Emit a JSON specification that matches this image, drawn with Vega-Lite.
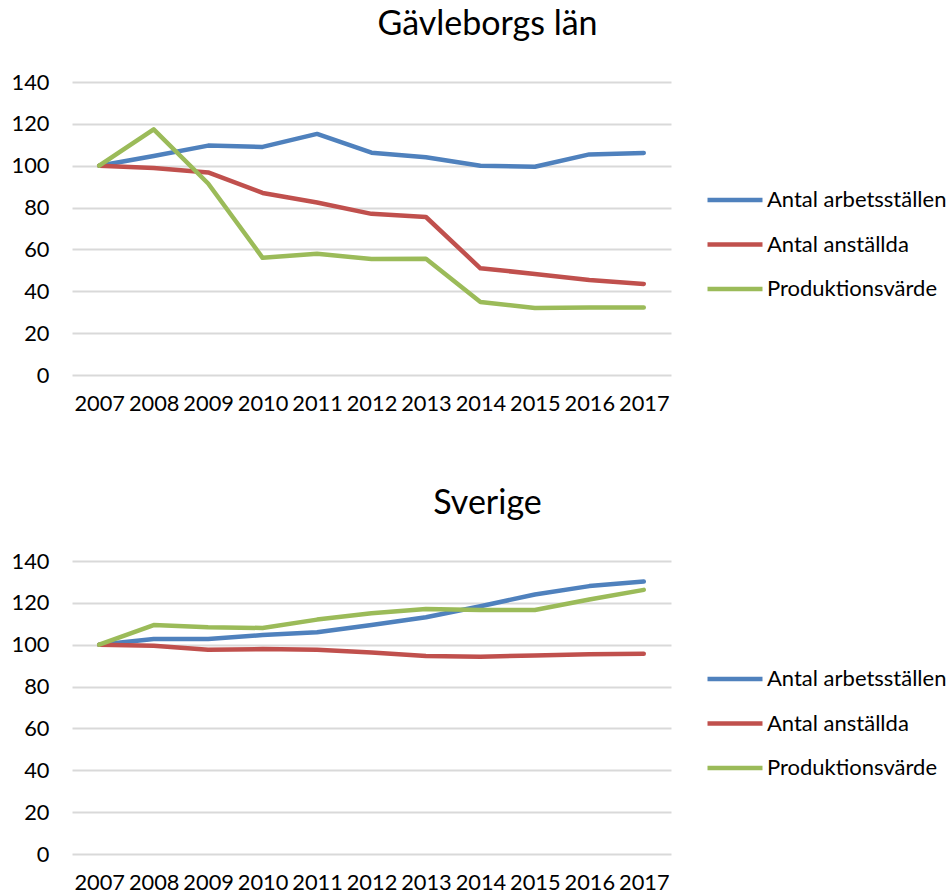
{
  "$schema": "https://vega.github.io/schema/vega-lite/v6.json",
  "background": "white",
  "padding": {"left": 11, "top": 8, "right": 0, "bottom": 0},
  "datasets": {
    "gav": [
      {"year": "2007", "series": "Antal arbetsställen", "value": 100},
      {"year": "2008", "series": "Antal arbetsställen", "value": 104.6},
      {"year": "2009", "series": "Antal arbetsställen", "value": 109.6},
      {"year": "2010", "series": "Antal arbetsställen", "value": 109},
      {"year": "2011", "series": "Antal arbetsställen", "value": 115.2},
      {"year": "2012", "series": "Antal arbetsställen", "value": 106.2},
      {"year": "2013", "series": "Antal arbetsställen", "value": 104},
      {"year": "2014", "series": "Antal arbetsställen", "value": 100},
      {"year": "2015", "series": "Antal arbetsställen", "value": 99.5},
      {"year": "2016", "series": "Antal arbetsställen", "value": 105.4},
      {"year": "2017", "series": "Antal arbetsställen", "value": 106.1},
      {"year": "2007", "series": "Antal anställda", "value": 100},
      {"year": "2008", "series": "Antal anställda", "value": 98.9},
      {"year": "2009", "series": "Antal anställda", "value": 96.8},
      {"year": "2010", "series": "Antal anställda", "value": 87},
      {"year": "2011", "series": "Antal anställda", "value": 82.4},
      {"year": "2012", "series": "Antal anställda", "value": 77},
      {"year": "2013", "series": "Antal anställda", "value": 75.5},
      {"year": "2014", "series": "Antal anställda", "value": 51},
      {"year": "2015", "series": "Antal anställda", "value": 48.3},
      {"year": "2016", "series": "Antal anställda", "value": 45.4},
      {"year": "2017", "series": "Antal anställda", "value": 43.5},
      {"year": "2007", "series": "Produktionsvärde", "value": 100},
      {"year": "2008", "series": "Produktionsvärde", "value": 117.4},
      {"year": "2009", "series": "Produktionsvärde", "value": 91.5},
      {"year": "2010", "series": "Produktionsvärde", "value": 56},
      {"year": "2011", "series": "Produktionsvärde", "value": 57.9},
      {"year": "2012", "series": "Produktionsvärde", "value": 55.4},
      {"year": "2013", "series": "Produktionsvärde", "value": 55.5},
      {"year": "2014", "series": "Produktionsvärde", "value": 34.9},
      {"year": "2015", "series": "Produktionsvärde", "value": 32},
      {"year": "2016", "series": "Produktionsvärde", "value": 32.3},
      {"year": "2017", "series": "Produktionsvärde", "value": 32.3}
    ],
    "sve": [
      {"year": "2007", "series": "Antal arbetsställen", "value": 100},
      {"year": "2008", "series": "Antal arbetsställen", "value": 102.7},
      {"year": "2009", "series": "Antal arbetsställen", "value": 102.7},
      {"year": "2010", "series": "Antal arbetsställen", "value": 104.6},
      {"year": "2011", "series": "Antal arbetsställen", "value": 106},
      {"year": "2012", "series": "Antal arbetsställen", "value": 109.4},
      {"year": "2013", "series": "Antal arbetsställen", "value": 113.1},
      {"year": "2014", "series": "Antal arbetsställen", "value": 118.4},
      {"year": "2015", "series": "Antal arbetsställen", "value": 124},
      {"year": "2016", "series": "Antal arbetsställen", "value": 128},
      {"year": "2017", "series": "Antal arbetsställen", "value": 130.2},
      {"year": "2007", "series": "Antal anställda", "value": 100},
      {"year": "2008", "series": "Antal anställda", "value": 99.5},
      {"year": "2009", "series": "Antal anställda", "value": 97.6},
      {"year": "2010", "series": "Antal anställda", "value": 97.9},
      {"year": "2011", "series": "Antal anställda", "value": 97.6},
      {"year": "2012", "series": "Antal anställda", "value": 96.3},
      {"year": "2013", "series": "Antal anställda", "value": 94.6},
      {"year": "2014", "series": "Antal anställda", "value": 94.2},
      {"year": "2015", "series": "Antal anställda", "value": 94.9},
      {"year": "2016", "series": "Antal anställda", "value": 95.4},
      {"year": "2017", "series": "Antal anställda", "value": 95.7},
      {"year": "2007", "series": "Produktionsvärde", "value": 100},
      {"year": "2008", "series": "Produktionsvärde", "value": 109.4},
      {"year": "2009", "series": "Produktionsvärde", "value": 108.3},
      {"year": "2010", "series": "Produktionsvärde", "value": 108},
      {"year": "2011", "series": "Produktionsvärde", "value": 112},
      {"year": "2012", "series": "Produktionsvärde", "value": 115},
      {"year": "2013", "series": "Produktionsvärde", "value": 117.1},
      {"year": "2014", "series": "Produktionsvärde", "value": 116.6},
      {"year": "2015", "series": "Produktionsvärde", "value": 116.6},
      {"year": "2016", "series": "Produktionsvärde", "value": 121.6},
      {"year": "2017", "series": "Produktionsvärde", "value": 126.2}
    ]
  },
  "config": {
    "font": "Lato",
    "view": {"stroke": null},
    "axis": {"labelFont": "Lato", "labelFontSize": 21.8, "labelColor": "#000000", "domain": false, "ticks": false, "title": null},
    "title": {"font": "Lato", "fontSize": 34, "fontWeight": "normal", "color": "#000000"},
    "legend": {"labelFont": "Lato", "labelFontSize": 22, "labelColor": "#000000", "labelLimit": 0},
    "concat": {"spacing": 72}
  },
  "resolve": {"scale": {"color": "independent"}, "legend": {"color": "independent"}},
  "vconcat": [
    {
      "title": {"text": "Gävleborgs län", "offset": 30, "dx": 116},
      "width": 599,
      "height": 293,
      "data": {"name": "gav"},
      "mark": {"type": "line", "strokeWidth": 4.5, "strokeCap": "round", "strokeJoin": "round"},
      "encoding": {
        "x": {"field": "year", "type": "ordinal", "scale": {"type": "point", "padding": 0.5}, "axis": {"labelAngle": 0, "labelPadding": 18, "grid": false}},
        "y": {"field": "value", "type": "quantitative", "scale": {"domain": [0, 140]}, "axis": {"values": [0, 20, 40, 60, 80, 100, 120, 140], "gridColor": "#d9d9d9", "gridWidth": 2, "labelPadding": 23}},
        "color": {
          "field": "series", "type": "nominal",
          "scale": {"domain": ["Antal arbetsställen", "Antal anställda", "Produktionsvärde"], "range": ["#4f81bd", "#c0504d", "#9bbb59"]},
          "legend": {"title": null, "orient": "none", "legendX": 647, "legendY": 102, "symbolType": "M-2,0H2", "symbolSize": 756, "symbolStrokeWidth": 4.5, "rowPadding": 17.5, "labelOffset": 16, "labelLimit": 0, "padding": 0}
        }
      }
    },
    {
      "title": {"text": "Sverige", "offset": 30, "dx": 116},
      "width": 599,
      "height": 293,
      "data": {"name": "sve"},
      "mark": {"type": "line", "strokeWidth": 4.5, "strokeCap": "round", "strokeJoin": "round"},
      "encoding": {
        "x": {"field": "year", "type": "ordinal", "scale": {"type": "point", "padding": 0.5}, "axis": {"labelAngle": 0, "labelPadding": 18, "grid": false}},
        "y": {"field": "value", "type": "quantitative", "scale": {"domain": [0, 140]}, "axis": {"values": [0, 20, 40, 60, 80, 100, 120, 140], "gridColor": "#d9d9d9", "gridWidth": 2, "labelPadding": 23}},
        "color": {
          "field": "series", "type": "nominal",
          "scale": {"domain": ["Antal arbetsställen", "Antal anställda", "Produktionsvärde"], "range": ["#4f81bd", "#c0504d", "#9bbb59"]},
          "legend": {"title": null, "orient": "none", "legendX": 647, "legendY": 102, "symbolType": "M-2,0H2", "symbolSize": 756, "symbolStrokeWidth": 4.5, "rowPadding": 17.5, "labelOffset": 16, "labelLimit": 0, "padding": 0}
        }
      }
    }
  ]
}
